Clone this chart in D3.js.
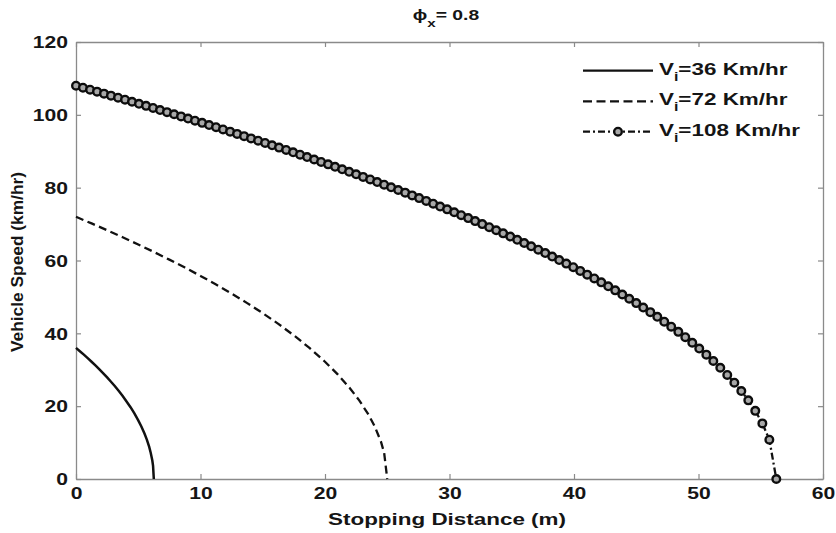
<!DOCTYPE html>
<html><head><meta charset="utf-8">
<script src="https://cdn.jsdelivr.net/npm/d3@7"></script>
<style>
body{margin:0;background:#fff}
text{font-family:Arial,"Liberation Sans",sans-serif;font-weight:bold;fill:#151515}
</style>
</head><body>
<svg id="chart" width="836" height="533"></svg>
<script>
// ---------- data ----------
const xTicks = [0, 10, 20, 30, 40, 50, 60];
const yTicks = [0, 20, 40, 60, 80, 100, 120];

// Vi = 36 km/hr
const dist36  = [0, 0.31, 0.63, 0.94, 1.25, 1.56, 1.88, 2.19, 2.5, 2.81, 3.13, 3.44, 3.75, 4.06, 4.38, 4.69, 5.0, 5.25, 5.5, 5.69, 5.88, 6.0, 6.13, 6.19, 6.25];
const speed36 = [36, 35.09, 34.15, 33.19, 32.2, 31.18, 30.12, 29.02, 27.89, 26.7, 25.46, 24.15, 22.77, 21.3, 19.72, 18.0, 16.1, 14.4, 12.47, 10.8, 8.82, 7.2, 5.09, 3.6, 0];

// Vi = 72 km/hr
const dist72  = [0, 1.25, 2.5, 3.75, 5, 6.25, 7.5, 8.75, 10, 11.25, 12.5, 13.75, 15, 16.25, 17.5, 18.75, 20, 21, 22, 22.75, 23.5, 24, 24.5, 24.75, 25];
const speed72 = [72, 70.18, 68.31, 66.38, 64.4, 62.35, 60.24, 58.05, 55.77, 53.4, 50.91, 48.3, 45.54, 42.6, 39.44, 36.0, 32.2, 28.8, 24.94, 21.6, 17.64, 14.4, 10.18, 7.2, 0];

// Vi = 108 km/hr (marked series)
const dist108 = [0, 0.56, 1.13, 1.69, 2.25, 2.81, 3.38, 3.94, 4.5, 5.06, 5.63, 6.19, 6.75, 7.31, 7.88, 8.44, 9, 9.56, 10.13, 10.69,
  11.25, 11.81, 12.38, 12.94, 13.5, 14.06, 14.63, 15.19, 15.75, 16.31, 16.88, 17.44, 18, 18.56, 19.13, 19.69, 20.25, 20.81, 21.38, 21.94,
  22.5, 23.06, 23.63, 24.19, 24.75, 25.31, 25.88, 26.44, 27, 27.56, 28.13, 28.69, 29.25, 29.81, 30.38, 30.94, 31.5, 32.06, 32.63, 33.19,
  33.75, 34.31, 34.88, 35.44, 36, 36.56, 37.13, 37.69, 38.25, 38.81, 39.38, 39.94, 40.5, 41.06, 41.63, 42.19, 42.75, 43.31, 43.88, 44.44,
  45, 45.56, 46.13, 46.69, 47.25, 47.81, 48.38, 48.94, 49.5, 50.06, 50.63, 51.19, 51.75, 52.31, 52.88, 53.44, 54, 54.56, 55.13, 55.69, 56.25];
const speed108 = [108.0, 107.46, 106.91, 106.37, 105.82, 105.27, 104.71, 104.15, 103.59, 103.03, 102.46, 101.89, 101.31, 100.74, 100.16,
  99.57, 98.98, 98.39, 97.8, 97.2, 96.6, 95.99, 95.38, 94.77, 94.15, 93.53, 92.9, 92.28, 91.64, 91.0, 90.36, 89.71, 89.06, 88.4, 87.74,
  87.07, 86.4, 85.72, 85.04, 84.35, 83.66, 82.96, 82.25, 81.54, 80.82, 80.09, 79.36, 78.63, 77.88, 77.13, 76.37, 75.6, 74.82, 74.04, 73.25,
  72.45, 71.64, 70.82, 69.99, 69.15, 68.3, 67.45, 66.58, 65.69, 64.8, 63.89, 62.97, 62.04, 61.09, 60.13, 59.15, 58.16, 57.15, 56.12, 55.07,
  54.0, 52.91, 51.8, 50.66, 49.49, 48.3, 47.08, 45.82, 44.53, 43.2, 41.83, 40.41, 38.94, 37.41, 35.82, 34.15, 32.4, 30.55, 28.57, 26.45,
  24.15, 21.6, 18.71, 15.27, 10.8, 0];

const legendSpeeds = ["36", "72", "108"];
const titleText = "ϕ";
const titleSub = "x";
const titleRest = "= 0.8";
const xLabel = "Stopping Distance (m)";
const yLabel = "Vehicle Speed (km/hr)";

// ---------- layout ----------
const L = 76, R = 823, T = 42, B = 479;
const SX = 1.32;            // horizontal stretch seen in the reference text
const axisGrey = "#8a8a8a";

const svg = d3.select("#chart");
const x = d3.scaleLinear().domain([0, 60]).range([L, R]);
const y = d3.scaleLinear().domain([0, 120]).range([B, T]);

// axes (inward ticks on all four sides)
function styleAxis(g) {
  g.selectAll("path.domain").attr("stroke", axisGrey).attr("stroke-width", 1.3);
  g.selectAll(".tick line").attr("stroke", axisGrey).attr("stroke-width", 1.2);
}
const gx = svg.append("g").attr("transform", `translate(0,${B})`)
  .call(d3.axisBottom(x).tickValues(xTicks).tickSizeInner(-5).tickSizeOuter(0).tickPadding(8.5).tickFormat(d3.format("d")));
gx.call(styleAxis);
gx.selectAll(".tick text").attr("font-size", 16).attr("font-family", null)
  .attr("transform", `scale(${SX},1)`).attr("fill", "#151515");

const gy = svg.append("g").attr("transform", `translate(${L},0)`)
  .call(d3.axisLeft(y).tickValues(yTicks).tickSizeInner(-5).tickSizeOuter(0).tickPadding(8).tickFormat(d3.format("d")));
gy.call(styleAxis);
gy.selectAll(".tick text").attr("font-size", 16).attr("font-family", null)
  .attr("x", -8 / SX).attr("dy", "0.36em")
  .attr("transform", `scale(${SX},1)`).attr("fill", "#151515");

const gt = svg.append("g").attr("transform", `translate(0,${T})`)
  .call(d3.axisTop(x).tickValues(xTicks).tickSizeInner(-5).tickSizeOuter(0).tickFormat(""));
gt.call(styleAxis);
const gr = svg.append("g").attr("transform", `translate(${R},0)`)
  .call(d3.axisRight(y).tickValues(yTicks).tickSizeInner(-5).tickSizeOuter(0).tickFormat(""));
gr.call(styleAxis);
svg.selectAll(".domain").attr("fill", "none");

// ---------- series ----------
const line = d3.line().x(d => x(d[0])).y(d => y(d[1]));
const s36 = d3.zip(dist36, speed36);
const s72 = d3.zip(dist72, speed72);
const s108 = d3.zip(dist108, speed108);

svg.append("path").datum(s36).attr("d", line)
  .attr("fill", "none").attr("stroke", "#111").attr("stroke-width", 2.5);
svg.append("path").datum(s72).attr("d", line)
  .attr("fill", "none").attr("stroke", "#111").attr("stroke-width", 2.3)
  .attr("stroke-dasharray", "8,4.5");
svg.append("path").datum(s108).attr("d", line)
  .attr("fill", "none").attr("stroke", "#111").attr("stroke-width", 2.3)
  .attr("stroke-dasharray", "7,3,2,3");
svg.append("g").selectAll("circle").data(s108).join("circle")
  .attr("cx", d => x(d[0])).attr("cy", d => y(d[1])).attr("r", 3.8)
  .attr("fill", "#a8a8a8").attr("stroke", "#0d0d0d").attr("stroke-width", 2.4);

// ---------- legend ----------
const legY = [70.6, 101.4, 131.7];
const legStyles = [null, "9,4.5", "7,3,2,3"];
legendSpeeds.forEach((v, i) => {
  svg.append("line").attr("x1", 583).attr("x2", 653).attr("y1", legY[i]).attr("y2", legY[i])
    .attr("stroke", "#111").attr("stroke-width", 2.3)
    .attr("stroke-dasharray", legStyles[i]);
  if (i === 2) {
    svg.append("circle").attr("cx", 618).attr("cy", legY[i]).attr("r", 3.8)
      .attr("fill", "#a8a8a8").attr("stroke", "#0d0d0d").attr("stroke-width", 2.4);
  }
  const t = svg.append("text").attr("transform", `translate(659,${legY[i] + 4}) scale(${SX},1)`)
    .attr("font-size", 17);
  t.append("tspan").text("V");
  t.append("tspan").attr("font-size", 12).attr("dy", 6).text("i");
  t.append("tspan").attr("dy", -6).text(`=${v} Km/hr`);
});

// ---------- title & labels ----------
const title = svg.append("text").attr("transform", `translate(446,20) scale(1.38,1)`)
  .attr("text-anchor", "middle").attr("font-size", 14);
title.append("tspan").text(titleText);
title.append("tspan").attr("font-size", 11).attr("dy", 7).text(titleSub);
title.append("tspan").attr("dy", -7).text(titleRest);

svg.append("text").attr("transform", `translate(447,525) scale(${SX},1)`)
  .attr("text-anchor", "middle").attr("font-size", 17).text(xLabel);

svg.append("text").attr("transform", `translate(23,262) rotate(-90)`)
  .attr("text-anchor", "middle").attr("font-size", 16)
  .attr("textLength", 180).attr("lengthAdjust", "spacingAndGlyphs").text(yLabel);
</script>
</body></html>
